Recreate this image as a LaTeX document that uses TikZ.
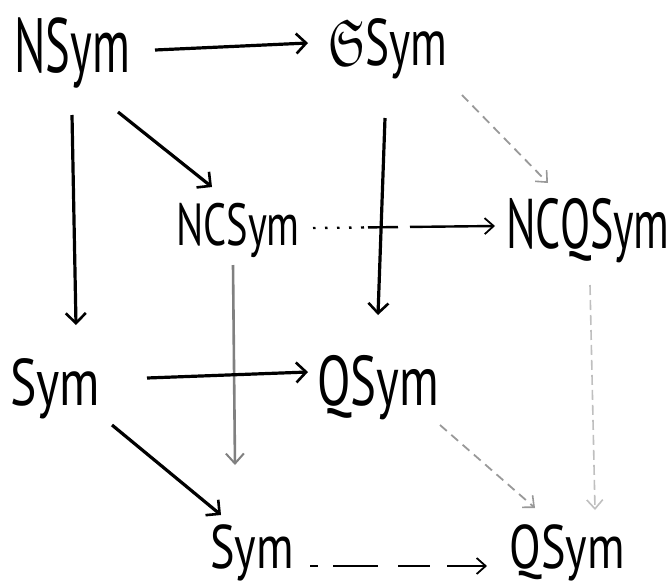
\documentclass[tikz,border=0pt]{standalone}
\usepackage{amssymb}
\usepackage{graphicx}
\usepackage{fontspec}
\setmainfont{PT Sans}
\usetikzlibrary{arrows.meta}
\begin{document}
\begin{tikzpicture}[x=1pt,y=-1pt,
  obj/.style={inner sep=0pt,anchor=base,font=\fontsize{44}{50}\selectfont},
  solidarr/.style={line width=3.2pt,black,-{Straight Barb[length=10pt,width=20pt,line width=2.6pt]}},
  hidarr/.style={line width=1.8pt,black!40,dash pattern=on 9pt off 6pt,-{Straight Barb[length=9pt,width=16pt,line width=1.6pt]}},
  faintarr/.style={line width=1.6pt,black!25,dash pattern=on 10pt off 5pt,-{Straight Barb[length=9pt,width=16pt,line width=1.6pt]}},
  greyarr/.style={line width=2.6pt,black!50,-{Straight Barb[length=10pt,width=18pt,line width=2pt]}},
  backarr/.style={line width=2pt,black,-{Straight Barb[length=9pt,width=16pt,line width=1.8pt]}}]
\useasboundingbox (0,0) rectangle (672,584);
\node[obj] (nsym) at (72,72) {\scalebox{1.06}[1.75]{NSym}};
\node[obj] (gsym) at (388,65) {\scalebox{1.03}[1.5]{$\mathfrak{S}$Sym}};
\node[obj] (ncsym) at (238,245) {\scalebox{0.92}[1.35]{NCSym}};
\node[obj] (ncqsym) at (588,248) {\scalebox{1.0}[1.6]{NCQSym}};
\node[obj] (sym) at (55,405) {\scalebox{1.13}[1.5]{Sym}};
\node[obj] (qsym) at (378,405) {\scalebox{1.11}[1.6]{QSym}};
\node[obj] (symb) at (252,568) {\scalebox{1.05}[1.4]{Sym}};
\node[obj] (qsymb) at (567,568) {\scalebox{1.05}[1.4]{QSym}};
% back / hidden edges
\draw[backarr,line width=2.4pt,dash pattern=on 2.5pt off 9.5pt on 2.5pt off 9.5pt on 2.5pt off 9.5pt on 2.5pt off 9.5pt on 3pt off 4pt on 30pt off 12pt on 200pt]
  ([shift={(75,-17)}]ncsym.base) -- ([shift={(-93,-22)}]ncqsym.base);
\draw[greyarr] ([shift={(-5,20)}]ncsym.base) -- ([shift={(-17,-103)}]symb.base);
\draw[hidarr] ([shift={(74,30)}]gsym.base) -- ([shift={(-40,-65)}]ncqsym.base);
\draw[hidarr] ([shift={(62,20)}]qsym.base) -- ([shift={(-32,-60)}]qsymb.base);
\draw[faintarr] ([shift={(2,37)}]ncqsym.base) -- ([shift={(28,-58)}]qsymb.base);
\draw[backarr,dash pattern=on 8pt off 15pt on 45pt off 20pt on 32pt off 17pt on 200pt]
  ([shift={(58,-2)}]symb.base) -- ([shift={(-80,-2)}]qsymb.base);
% front edges
\draw[solidarr] ([shift={(83,-22)}]nsym.base) -- ([shift={(-80,-22)}]gsym.base);
\draw[solidarr] ([shift={(46,40)}]nsym.base) -- ([shift={(-26,-58)}]ncsym.base);
\draw[solidarr] ([shift={(0,43)}]nsym.base) -- ([shift={(21,-80)}]sym.base);
\draw[solidarr] ([shift={(-3,53)}]gsym.base) -- ([shift={(0,-90)}]qsym.base);
\draw[solidarr] ([shift={(92,-27)}]sym.base) -- ([shift={(-70,-33)}]qsym.base);
\draw[solidarr] ([shift={(57,20)}]sym.base) -- ([shift={(-31,-53)}]symb.base);
\end{tikzpicture}
\end{document}
